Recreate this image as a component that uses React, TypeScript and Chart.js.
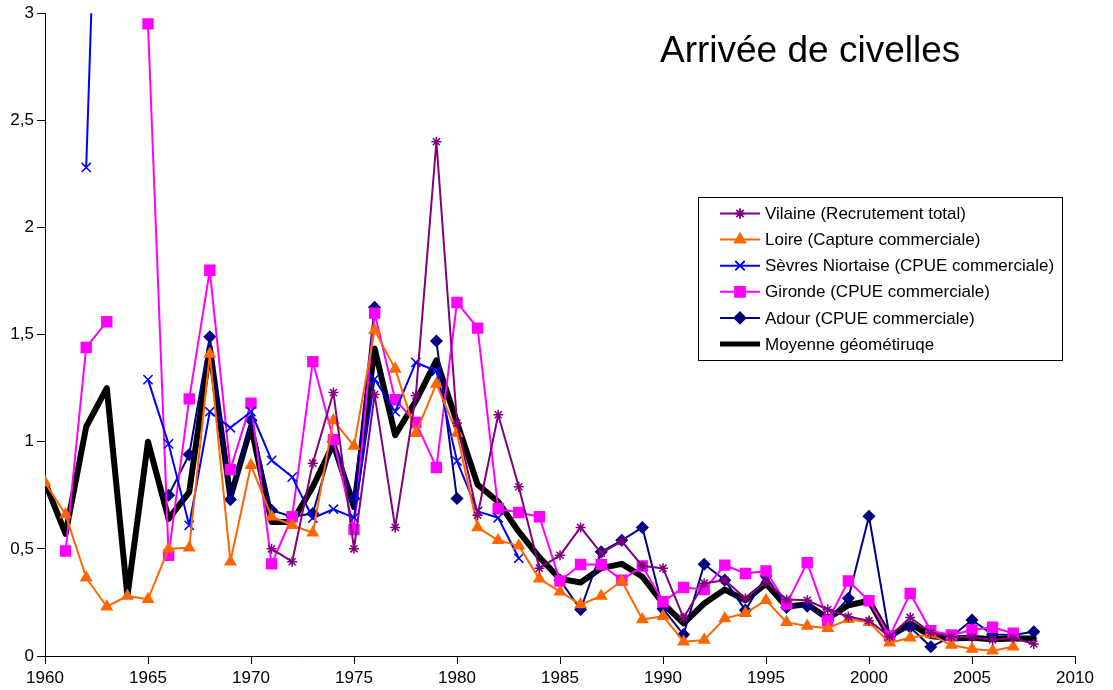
import React, { useEffect, useRef } from "react";
import { Chart, registerables } from "chart.js";
import { drawPoint } from "chart.js/helpers";

Chart.register(...registerables);

const years: number[] = [];
for (let y = 1960; y <= 2008; y++) years.push(y);

const N = null;

// 1960 ... 2008
const vilaine = [
  N, N, N, N, N, N, N, N, N, N, N,
  0.50, 0.44, 0.90, 1.23, 0.50, 1.22, 0.60, 1.215, 2.40, 1.087,
  0.657, 1.126, 0.79, 0.41, 0.47, 0.60, 0.48, 0.535, 0.42, 0.41,
  0.178, 0.34, 0.354, 0.27, 0.346, 0.264, 0.26, 0.217, 0.183, 0.165,
  0.09, 0.18, 0.109, 0.09, 0.087, 0.075, 0.085, 0.056,
];

const loire = [
  0.81, 0.66, 0.365, 0.23, 0.28, 0.265, 0.50, 0.505, 1.41, 0.44, 0.89,
  0.65, 0.61, 0.575, 1.10, 0.98, 1.52, 1.34, 1.04, 1.27, 1.04,
  0.60, 0.54, 0.514, 0.36, 0.30, 0.24, 0.28, 0.35, 0.17, 0.186,
  0.067, 0.075, 0.175, 0.20, 0.26, 0.157, 0.14, 0.129, 0.171, 0.157,
  0.062, 0.085, 0.10, 0.051, 0.033, 0.025, 0.043, N,
];

const sevres = [
  N, N, 2.28, 5.2, N, 1.29, 0.99, 0.61, 1.14, 1.065, 1.14,
  0.913, 0.835, 0.644, 0.685, 0.646, 1.293, 1.14, 1.37, 1.33, 0.91,
  0.675, 0.645, 0.456, N, N, N, N, N, N, N,
  N, N, N, N, N, N, N, N, N, N,
  N, N, N, N, N, N, N, N,
];

const gironde = [
  N, 0.49, 1.44, 1.56, N, 2.95, 0.47, 1.20, 1.80, 0.87, 1.18,
  0.43, 0.65, 1.374, 1.01, 0.59, 1.60, 1.196, 1.09, 0.88, 1.65,
  1.53, 0.687, 0.67, 0.65, 0.35, 0.427, 0.427, 0.354, 0.42, 0.253,
  0.32, 0.31, 0.424, 0.385, 0.397, 0.242, 0.436, 0.163, 0.35, 0.258,
  0.093, 0.292, 0.118, 0.098, 0.121, 0.134, 0.106, N,
];

const adour = [
  N, N, N, N, N, N, 0.75, 0.94, 1.49, 0.73, 1.10,
  0.68, 0.65, 0.665, 1.00, 0.735, 1.627, N, N, 1.47, 0.735,
  N, N, N, N, 0.354, 0.217, 0.486, 0.54, 0.60, 0.22,
  0.10, 0.428, 0.354, 0.214, 0.373, 0.227, 0.233, 0.168, 0.269, 0.652,
  0.09, 0.134, 0.043, 0.09, 0.168, 0.10, 0.098, 0.113,
];

const moyenne = [
  0.81, 0.57, 1.07, 1.25, 0.28, 1.00, 0.64, 0.765, 1.44, 0.74, 1.07,
  0.625, 0.625, 0.79, 0.99, 0.695, 1.435, 1.03, 1.19, 1.38, 1.09,
  0.80, 0.72, 0.58, 0.46, 0.36, 0.343, 0.41, 0.43, 0.37, 0.245,
  0.152, 0.245, 0.31, 0.26, 0.338, 0.23, 0.242, 0.175, 0.237, 0.258,
  0.09, 0.152, 0.093, 0.082, 0.085, 0.078, 0.082, 0.082,
];

const seriesNames = [
  "Vilaine (Recrutement total)",
  "Loire (Capture commerciale)",
  "Sèvres Niortaise (CPUE commerciale)",
  "Gironde (CPUE commerciale)",
  "Adour (CPUE commerciale)",
  "Moyenne géométiruqe",
];

const titleText = "Arrivée de civelles";
const yTicks = [0, 0.5, 1, 1.5, 2, 2.5, 3];

const FONT = "'Liberation Sans', Arial, sans-serif";

type Style = {
  color: string;
  pointStyle: any;
  radius: number;
  width: number;
  fill: boolean;
};

const styles: Style[] = [
  { color: "#800080", pointStyle: "star", radius: 5, width: 2, fill: false },
  { color: "#FF6600", pointStyle: "triangle", radius: 6, width: 2, fill: true },
  { color: "#0000FF", pointStyle: "crossRot", radius: 6.5, width: 2, fill: false },
  { color: "#FF00FF", pointStyle: "rect", radius: 7, width: 2, fill: true },
  { color: "#000080", pointStyle: "rectRot", radius: 5.5, width: 2, fill: true },
  { color: "#000000", pointStyle: false, radius: 0, width: 6, fill: false },
];

const allSeries = [vilaine, loire, sevres, gironde, adour, moyenne];

const overlayPlugin = {
  id: "overlay",
  afterDraw(chart: any) {
    const ctx = chart.ctx as CanvasRenderingContext2D;
    ctx.save();
    // title
    ctx.fillStyle = "#000";
    ctx.font = `37px ${FONT}`;
    ctx.textAlign = "left";
    ctx.textBaseline = "alphabetic";
    ctx.fillText(titleText, 660, 62);

    // legend box
    const bx = 698, by = 197, bw = 364, bh = 163;
    ctx.fillStyle = "#fff";
    ctx.fillRect(bx, by, bw, bh);
    ctx.strokeStyle = "#000";
    ctx.lineWidth = 1;
    ctx.strokeRect(bx + 0.5, by + 0.5, bw, bh);

    ctx.font = `17px ${FONT}`;
    ctx.textBaseline = "middle";
    for (let i = 0; i < seriesNames.length; i++) {
      const s = styles[i];
      const cy = 213.5 + i * 26.1;
      ctx.strokeStyle = s.color;
      ctx.lineWidth = i === 5 ? 5 : 2;
      ctx.beginPath();
      ctx.moveTo(720, cy);
      ctx.lineTo(760, cy);
      ctx.stroke();
      if (s.pointStyle) {
        ctx.fillStyle = s.color;
        ctx.strokeStyle = s.color;
        ctx.lineWidth = 1.5;
        drawPoint(ctx, { pointStyle: s.pointStyle, radius: s.radius, rotation: 0, borderWidth: 1.5 } as any, 740, cy);
        if (s.fill) ctx.fill();
        ctx.stroke();
      }
      ctx.fillStyle = "#000";
      ctx.fillText(seriesNames[i], 765, cy + 1);
    }
    ctx.restore();
  },
};

export default function App() {
  const ref = useRef<HTMLCanvasElement | null>(null);

  useEffect(() => {
    if (!ref.current) return;
    const datasets = allSeries.map((arr, i) => {
      const s = styles[i];
      return {
        label: seriesNames[i],
        data: years.map((yr, j) => ({ x: yr, y: arr[j] })),
        borderColor: s.color,
        backgroundColor: s.color,
        borderWidth: s.width,
        pointStyle: s.pointStyle,
        pointRadius: s.radius,
        pointHoverRadius: s.radius,
        pointBorderWidth: 1.5,
        pointBackgroundColor: s.fill ? s.color : "transparent",
        pointBorderColor: s.color,
        tension: 0,
        fill: false,
        spanGaps: false,
        borderJoinStyle: "round" as const,
        borderCapStyle: "round" as const,
      };
    });

    const chart = new Chart(ref.current, {
      type: "line",
      data: { datasets },
      options: {
        animation: false,
        responsive: false,
        maintainAspectRatio: false,
        devicePixelRatio: 1,
        layout: { padding: { top: 12, right: 38, left: 0, bottom: 0 } },
        plugins: {
          legend: { display: false },
          tooltip: { enabled: false },
          title: { display: false },
        },
        scales: {
          x: {
            type: "linear",
            min: 1960,
            max: 2010,
            ticks: {
              stepSize: 5,
              autoSkip: false,
              maxRotation: 0,
              padding: 4,
              color: "#000",
              font: { family: FONT, size: 17 },
              callback: (v: any) => String(v),
            },
            grid: {
              display: true,
              drawOnChartArea: false,
              drawTicks: true,
              tickLength: 8,
              color: "#000",
              lineWidth: 1,
            },
            border: { display: true, color: "#000", width: 1 },
            afterFit: (s: any) => {
              s.height = 34;
            },
          },
          y: {
            type: "linear",
            min: 0,
            max: 3,
            afterBuildTicks: (s: any) => {
              s.ticks = yTicks.map((v) => ({ value: v }));
            },
            ticks: {
              stepSize: 0.5,
              padding: 3,
              color: "#000",
              font: { family: FONT, size: 17 },
              callback: (v: any) => String(v).replace(".", ","),
            },
            grid: {
              display: true,
              drawOnChartArea: false,
              drawTicks: true,
              tickLength: 8,
              color: "#000",
              lineWidth: 1,
            },
            border: { display: true, color: "#000", width: 1 },
            afterFit: (s: any) => {
              s.width = 45;
            },
          },
        },
      },
      plugins: [overlayPlugin],
    });
    return () => chart.destroy();
  }, []);

  return (
    <div style={{ position: "fixed", left: 0, top: 0, width: 1113, height: 690, background: "#fff" }}>
      <canvas ref={ref} width={1113} height={690} style={{ display: "block", width: 1113, height: 690 }} />
    </div>
  );
}
